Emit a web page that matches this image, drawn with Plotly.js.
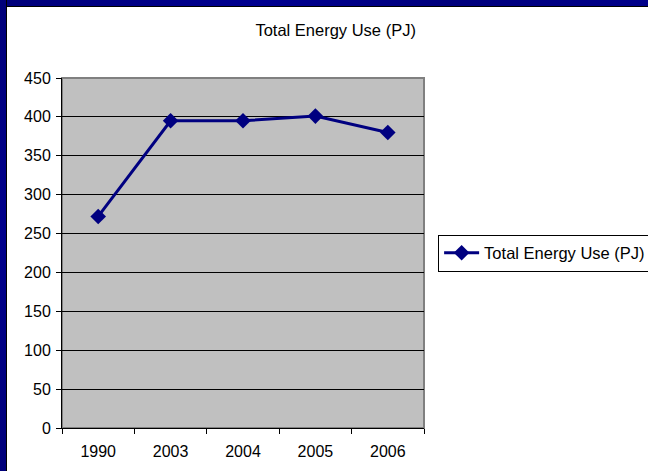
<!DOCTYPE html>
<html>
<head>
<meta charset="utf-8">
<script src="https://cdn.plot.ly/plotly-3.0.1.min.js"></script>
<style>
  html, body { margin: 0; padding: 0; background: #ffffff; }
  #wrap { position: relative; width: 648px; height: 471px; overflow: hidden; }
  #chart { position: absolute; left: 0; top: 0; width: 648px; height: 471px; }
  /* slide frame: dark blue band on the top and left edges */
  .band-top { position: absolute; left: 0; top: 0; width: 648px; height: 6px;
    background: linear-gradient(90deg, #00007a, #000090 40%, #00007c 70%, #00008a); border-bottom: 1px solid #000000; }
  .band-left { position: absolute; left: 0; top: 0; width: 6px; height: 471px;
    background: linear-gradient(180deg, #00007a, #00008c 50%, #00007a); border-right: 1px solid #000000; }
</style>
</head>
<body>
<div id="wrap">
  <div id="chart"></div>
  <div class="band-top"></div>
  <div class="band-left"></div>
</div>
<script>
// Total energy use by year, in petajoules
const years = ['1990', '2003', '2004', '2005', '2006'];
const energyUse = [272, 395, 395, 401, 380];
const seriesName = 'Total Energy Use (PJ)';
const yTicks = [0, 50, 100, 150, 200, 250, 300, 350, 400, 450];

const navy = '#000080';
const font = 'Arial, "Liberation Sans", sans-serif';

const trace = {
  x: years,
  y: energyUse,
  type: 'scatter',
  mode: 'lines+markers',
  name: seriesName,
  line: { color: navy, width: 3 },
  marker: { symbol: 'diamond', size: 12, color: navy }
};

const layout = {
  width: 648,
  height: 471,
  paper_bgcolor: '#ffffff',
  plot_bgcolor: '#c0c0c0',
  margin: { l: 62, r: 224, t: 78, b: 43, autoexpand: false },
  font: { family: font, size: 16, color: '#000000' },
  title: {
    text: 'Total Energy Use (PJ)',
    font: { family: font, size: 16.5, color: '#000000' },
    x: 0.518, xref: 'container', xanchor: 'center',
    y: 0.936, yref: 'container', yanchor: 'middle'
  },
  xaxis: {
    type: 'category',
    range: [-0.5, years.length - 0.5],
    tickson: 'boundaries',
    ticks: 'outside',
    ticklen: 5,
    tickcolor: '#000000',
    tickwidth: 1,
    ticklabelstandoff: 9,
    showline: true,
    linecolor: '#000000',
    linewidth: 1,
    showgrid: false,
    zeroline: false,
    tickfont: { family: font, size: 16, color: '#000000' },
    fixedrange: true
  },
  yaxis: {
    range: [0, 450],
    tickvals: yTicks,
    ticktext: yTicks.map(String),
    ticks: 'outside',
    ticklen: 5,
    tickcolor: '#000000',
    tickwidth: 1,
    ticklabelstandoff: 2,
    showline: true,
    linecolor: '#000000',
    linewidth: 1,
    showgrid: true,
    gridcolor: '#000000',
    gridwidth: 1,
    zeroline: false,
    tickfont: { family: font, size: 16, color: '#000000' },
    fixedrange: true
  },
  shapes: [
    {
      type: 'rect', xref: 'paper', yref: 'paper',
      x0: 0, x1: 1, y0: 0, y1: 1,
      line: { color: '#808080', width: 2 },
      layer: 'below'
    }
  ],
  showlegend: true,
  legend: {
    x: 1.039, xanchor: 'left',
    y: 0.5, yanchor: 'middle',
    itemwidth: 35,
    bgcolor: '#ffffff',
    bordercolor: '#000000',
    borderwidth: 1,
    font: { family: font, size: 16.5, color: '#000000' }
  }
};

Plotly.newPlot('chart', [trace], layout, { staticPlot: true, displayModeBar: false });
</script>
</body>
</html>
